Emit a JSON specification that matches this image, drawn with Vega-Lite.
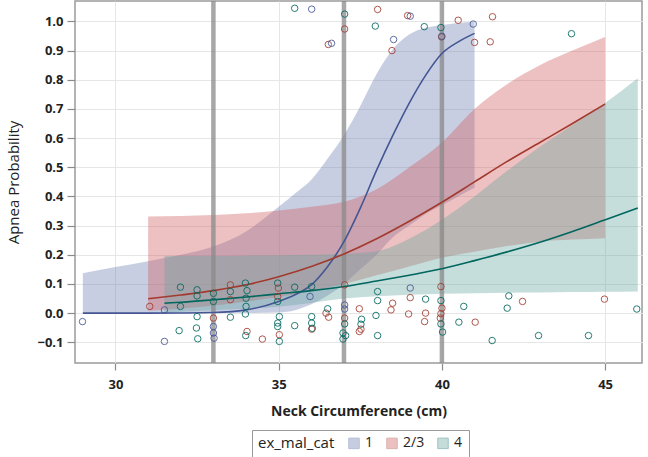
{
  "$schema": "https://vega.github.io/schema/vega-lite/v6.json",
  "width": 567,
  "height": 362,
  "autosize": {"type": "none"},
  "padding": {"left": 75, "top": 1, "right": 6, "bottom": 94},
  "background": "white",
  "datasets": {
    "bands": [
      {"g": "1", "x": 29, "lo": 0, "hi": 0.137},
      {"g": "1", "x": 30, "lo": 0, "hi": 0.158},
      {"g": "1", "x": 31, "lo": 0, "hi": 0.178},
      {"g": "1", "x": 32, "lo": 0, "hi": 0.2},
      {"g": "1", "x": 33, "lo": 0, "hi": 0.228},
      {"g": "1", "x": 34, "lo": 0, "hi": 0.28},
      {"g": "1", "x": 35, "lo": 0.002, "hi": 0.365},
      {"g": "1", "x": 35.5, "lo": 0.01, "hi": 0.41},
      {"g": "1", "x": 36, "lo": 0.03, "hi": 0.457},
      {"g": "1", "x": 36.5, "lo": 0.06, "hi": 0.53},
      {"g": "1", "x": 37, "lo": 0.1, "hi": 0.61},
      {"g": "1", "x": 37.5, "lo": 0.15, "hi": 0.71},
      {"g": "1", "x": 38, "lo": 0.2, "hi": 0.82},
      {"g": "1", "x": 38.5, "lo": 0.26, "hi": 0.905},
      {"g": "1", "x": 39, "lo": 0.3, "hi": 0.955},
      {"g": "1", "x": 39.5, "lo": 0.34, "hi": 0.978},
      {"g": "1", "x": 40, "lo": 0.37, "hi": 0.988},
      {"g": "1", "x": 40.5, "lo": 0.4, "hi": 0.995},
      {"g": "1", "x": 41, "lo": 0.43, "hi": 0.999},
      {"g": "2/3", "x": 31, "lo": 0.008, "hi": 0.331},
      {"g": "2/3", "x": 32, "lo": 0.015, "hi": 0.333},
      {"g": "2/3", "x": 33, "lo": 0.025, "hi": 0.336},
      {"g": "2/3", "x": 34, "lo": 0.04, "hi": 0.342},
      {"g": "2/3", "x": 35, "lo": 0.055, "hi": 0.352},
      {"g": "2/3", "x": 36, "lo": 0.075, "hi": 0.365},
      {"g": "2/3", "x": 37, "lo": 0.1, "hi": 0.382},
      {"g": "2/3", "x": 38, "lo": 0.13, "hi": 0.425},
      {"g": "2/3", "x": 39, "lo": 0.16, "hi": 0.5},
      {"g": "2/3", "x": 40, "lo": 0.19, "hi": 0.585},
      {"g": "2/3", "x": 41, "lo": 0.21, "hi": 0.7},
      {"g": "2/3", "x": 42, "lo": 0.23, "hi": 0.785},
      {"g": "2/3", "x": 43, "lo": 0.245, "hi": 0.85},
      {"g": "2/3", "x": 44, "lo": 0.252, "hi": 0.9},
      {"g": "2/3", "x": 45, "lo": 0.257, "hi": 0.947},
      {"g": "4", "x": 31.5, "lo": 0.003, "hi": 0.196},
      {"g": "4", "x": 32, "lo": 0.005, "hi": 0.196},
      {"g": "4", "x": 33, "lo": 0.01, "hi": 0.196},
      {"g": "4", "x": 34, "lo": 0.015, "hi": 0.197},
      {"g": "4", "x": 35, "lo": 0.022, "hi": 0.198},
      {"g": "4", "x": 36, "lo": 0.035, "hi": 0.2},
      {"g": "4", "x": 37, "lo": 0.05, "hi": 0.203},
      {"g": "4", "x": 38, "lo": 0.058, "hi": 0.212},
      {"g": "4", "x": 39, "lo": 0.063, "hi": 0.255},
      {"g": "4", "x": 40, "lo": 0.066, "hi": 0.32},
      {"g": "4", "x": 41, "lo": 0.068, "hi": 0.4},
      {"g": "4", "x": 42, "lo": 0.07, "hi": 0.488},
      {"g": "4", "x": 43, "lo": 0.071, "hi": 0.57},
      {"g": "4", "x": 44, "lo": 0.072, "hi": 0.645},
      {"g": "4", "x": 45, "lo": 0.073, "hi": 0.72},
      {"g": "4", "x": 46, "lo": 0.074, "hi": 0.805}
    ],
    "lines": [
      {"g": "1", "x": 29, "p": 0},
      {"g": "1", "x": 30, "p": 0},
      {"g": "1", "x": 31, "p": 0},
      {"g": "1", "x": 32, "p": 0.0005},
      {"g": "1", "x": 33, "p": 0.002},
      {"g": "1", "x": 34, "p": 0.011},
      {"g": "1", "x": 35, "p": 0.04},
      {"g": "1", "x": 35.5, "p": 0.063},
      {"g": "1", "x": 36, "p": 0.097},
      {"g": "1", "x": 36.5, "p": 0.16},
      {"g": "1", "x": 37, "p": 0.245},
      {"g": "1", "x": 37.5, "p": 0.36},
      {"g": "1", "x": 38, "p": 0.49},
      {"g": "1", "x": 38.5, "p": 0.61},
      {"g": "1", "x": 39, "p": 0.72},
      {"g": "1", "x": 39.5, "p": 0.815},
      {"g": "1", "x": 40, "p": 0.89},
      {"g": "1", "x": 40.5, "p": 0.93},
      {"g": "1", "x": 41, "p": 0.959},
      {"g": "2/3", "x": 31, "p": 0.049},
      {"g": "2/3", "x": 32, "p": 0.062},
      {"g": "2/3", "x": 33, "p": 0.077},
      {"g": "2/3", "x": 34, "p": 0.097},
      {"g": "2/3", "x": 35, "p": 0.125},
      {"g": "2/3", "x": 36, "p": 0.16},
      {"g": "2/3", "x": 37, "p": 0.203},
      {"g": "2/3", "x": 38, "p": 0.255},
      {"g": "2/3", "x": 39, "p": 0.315},
      {"g": "2/3", "x": 40, "p": 0.38},
      {"g": "2/3", "x": 41, "p": 0.45},
      {"g": "2/3", "x": 42, "p": 0.52},
      {"g": "2/3", "x": 43, "p": 0.585},
      {"g": "2/3", "x": 44, "p": 0.65},
      {"g": "2/3", "x": 45, "p": 0.717},
      {"g": "4", "x": 31.5, "p": 0.034},
      {"g": "4", "x": 32, "p": 0.037},
      {"g": "4", "x": 33, "p": 0.046},
      {"g": "4", "x": 34, "p": 0.055},
      {"g": "4", "x": 35, "p": 0.066},
      {"g": "4", "x": 36, "p": 0.077},
      {"g": "4", "x": 37, "p": 0.091},
      {"g": "4", "x": 38, "p": 0.11},
      {"g": "4", "x": 39, "p": 0.13},
      {"g": "4", "x": 40, "p": 0.152},
      {"g": "4", "x": 41, "p": 0.18},
      {"g": "4", "x": 42, "p": 0.21},
      {"g": "4", "x": 43, "p": 0.243},
      {"g": "4", "x": 44, "p": 0.28},
      {"g": "4", "x": 45, "p": 0.32},
      {"g": "4", "x": 46, "p": 0.36}
    ],
    "refs": [{"x": 33}, {"x": 37}, {"x": 40}],
    "points": [
      {"g": "4", "x": 35.49, "y": 1.045},
      {"g": "1", "x": 36.01, "y": 1.042},
      {"g": "4", "x": 37.02, "y": 1.025},
      {"g": "2/3", "x": 37.02, "y": 0.974},
      {"g": "2/3", "x": 36.52, "y": 0.921},
      {"g": "1", "x": 36.62, "y": 0.925},
      {"g": "2/3", "x": 38.03, "y": 1.041},
      {"g": "4", "x": 37.96, "y": 0.984},
      {"g": "2/3", "x": 38.95, "y": 1.02},
      {"g": "1", "x": 39.03, "y": 1.018},
      {"g": "1", "x": 38.52, "y": 0.938},
      {"g": "2/3", "x": 38.47, "y": 0.9},
      {"g": "4", "x": 39.46, "y": 0.982},
      {"g": "4", "x": 39.97, "y": 0.979},
      {"g": "2/3", "x": 39.99, "y": 0.947},
      {"g": "1", "x": 40.0, "y": 0.949},
      {"g": "2/3", "x": 40.5, "y": 1.004},
      {"g": "1", "x": 40.96, "y": 0.991},
      {"g": "2/3", "x": 41.55, "y": 1.016},
      {"g": "2/3", "x": 41.0, "y": 0.928},
      {"g": "2/3", "x": 41.48, "y": 0.93},
      {"g": "4", "x": 43.97, "y": 0.958},
      {"g": "1", "x": 28.99, "y": -0.029},
      {"g": "2/3", "x": 31.05, "y": 0.023},
      {"g": "1", "x": 31.5, "y": 0.011},
      {"g": "1", "x": 31.5, "y": -0.097},
      {"g": "4", "x": 31.99, "y": 0.089},
      {"g": "4", "x": 31.99, "y": 0.023},
      {"g": "4", "x": 31.95, "y": -0.06},
      {"g": "4", "x": 32.5, "y": 0.08},
      {"g": "4", "x": 32.5, "y": 0.059},
      {"g": "4", "x": 32.5, "y": -0.012},
      {"g": "4", "x": 32.48, "y": -0.051},
      {"g": "4", "x": 32.52, "y": -0.088},
      {"g": "4", "x": 33.0, "y": 0.068},
      {"g": "4", "x": 33.0, "y": 0.04},
      {"g": "2/3", "x": 33.0, "y": -0.017},
      {"g": "1", "x": 33.0, "y": -0.046},
      {"g": "1", "x": 33.0, "y": -0.068},
      {"g": "1", "x": 33.02, "y": -0.086},
      {"g": "2/3", "x": 33.52, "y": 0.097},
      {"g": "4", "x": 33.52, "y": 0.074},
      {"g": "2/3", "x": 33.52, "y": 0.046},
      {"g": "4", "x": 33.52, "y": -0.014},
      {"g": "4", "x": 33.98, "y": 0.103},
      {"g": "4", "x": 34.03, "y": 0.077},
      {"g": "4", "x": 34.0, "y": 0.051},
      {"g": "4", "x": 34.0, "y": 0.023},
      {"g": "4", "x": 33.98, "y": -0.003},
      {"g": "2/3", "x": 34.03, "y": -0.063},
      {"g": "4", "x": 33.99, "y": -0.077},
      {"g": "2/3", "x": 34.5, "y": -0.089},
      {"g": "4", "x": 34.97, "y": 0.103},
      {"g": "2/3", "x": 34.99, "y": 0.086},
      {"g": "2/3", "x": 34.97, "y": 0.057},
      {"g": "4", "x": 34.97, "y": 0.04},
      {"g": "4", "x": 35.02, "y": -0.012},
      {"g": "4", "x": 34.97, "y": -0.034},
      {"g": "4", "x": 34.97, "y": -0.046},
      {"g": "2/3", "x": 35.02, "y": -0.074},
      {"g": "4", "x": 35.02, "y": -0.097},
      {"g": "4", "x": 35.49, "y": 0.089},
      {"g": "4", "x": 35.49, "y": -0.043},
      {"g": "4", "x": 36.01, "y": 0.091},
      {"g": "1", "x": 35.96, "y": 0.057},
      {"g": "4", "x": 36.01, "y": -0.012},
      {"g": "4", "x": 36.01, "y": -0.034},
      {"g": "2/3", "x": 36.01, "y": -0.055},
      {"g": "4", "x": 36.03, "y": -0.052},
      {"g": "2/3", "x": 36.45, "y": 0.0},
      {"g": "4", "x": 36.5, "y": 0.015},
      {"g": "2/3", "x": 36.53, "y": -0.014},
      {"g": "2/3", "x": 37.02, "y": 0.097},
      {"g": "1", "x": 37.02, "y": 0.028},
      {"g": "1", "x": 37.02, "y": 0.014},
      {"g": "2/3", "x": 37.02, "y": -0.017},
      {"g": "4", "x": 37.02, "y": -0.037},
      {"g": "4", "x": 36.97, "y": -0.068},
      {"g": "4", "x": 37.05, "y": -0.077},
      {"g": "4", "x": 36.97, "y": -0.089},
      {"g": "4", "x": 38.03, "y": 0.074},
      {"g": "4", "x": 38.03, "y": 0.043},
      {"g": "4", "x": 37.98, "y": -0.008},
      {"g": "4", "x": 38.03, "y": -0.077},
      {"g": "2/3", "x": 37.47, "y": 0.015},
      {"g": "4", "x": 37.54, "y": -0.021},
      {"g": "4", "x": 37.52, "y": -0.038},
      {"g": "2/3", "x": 37.52, "y": -0.055},
      {"g": "2/3", "x": 37.47, "y": -0.063},
      {"g": "2/3", "x": 38.49, "y": 0.034},
      {"g": "2/3", "x": 38.44, "y": 0.011},
      {"g": "1", "x": 39.03, "y": 0.086},
      {"g": "2/3", "x": 39.03, "y": 0.053},
      {"g": "2/3", "x": 38.98, "y": -0.003},
      {"g": "4", "x": 39.5, "y": 0.048},
      {"g": "2/3", "x": 39.5, "y": 0.0},
      {"g": "2/3", "x": 39.47, "y": -0.029},
      {"g": "2/3", "x": 39.97, "y": 0.091},
      {"g": "4", "x": 39.97, "y": 0.043},
      {"g": "2/3", "x": 40.0, "y": 0.017},
      {"g": "2/3", "x": 39.97, "y": -0.002},
      {"g": "2/3", "x": 39.95, "y": -0.017},
      {"g": "4", "x": 39.97, "y": -0.037},
      {"g": "4", "x": 40.02, "y": -0.065},
      {"g": "4", "x": 40.67, "y": 0.023},
      {"g": "4", "x": 40.52, "y": -0.031},
      {"g": "2/3", "x": 41.02, "y": -0.031},
      {"g": "4", "x": 41.54, "y": -0.094},
      {"g": "4", "x": 42.05, "y": 0.059},
      {"g": "4", "x": 42.0, "y": 0.017},
      {"g": "2/3", "x": 42.47, "y": 0.04},
      {"g": "4", "x": 42.96, "y": -0.077},
      {"g": "4", "x": 44.49, "y": -0.077},
      {"g": "2/3", "x": 44.98, "y": 0.048},
      {"g": "4", "x": 45.97, "y": 0.014}
    ]
  },
  "layer": [
    {
      "data": {"name": "bands"},
      "mark": {"type": "area", "opacity": 0.38, "interpolate": "monotone"},
      "encoding": {
        "x": {"field": "x", "type": "quantitative"},
        "y": {"field": "lo", "type": "quantitative"},
        "y2": {"field": "hi"},
        "fill": {
          "field": "g", "type": "nominal",
          "scale": {"domain": ["1", "2/3", "4"], "range": ["#6F7EB3", "#D05B5B", "#66A5A0"]},
          "legend": {
            "title": "ex_mal_cat",
            "orient": "none",
            "legendX": 177,
            "legendY": 429,
            "direction": "horizontal",
            "titleOrient": "left",
            "titleFontWeight": "normal",
            "titleFontSize": 15,
            "titleColor": "#222",
            "titleFont": "Open Sans",
            "titlePadding": 12,
            "labelFont": "Open Sans",
            "labelFontSize": 14,
            "labelColor": "#222",
            "symbolType": "square",
            "symbolSize": 110,
            "symbolStrokeColor": "#666",
            "symbolStrokeWidth": 1,
            "columnPadding": 10,
            "strokeColor": "#999",
            "padding": 6
          }
        }
      }
    },
    {
      "data": {"name": "refs"},
      "mark": {"type": "rule", "color": "#8a8a8a", "strokeWidth": 4.5, "opacity": 0.75},
      "encoding": {"x": {"field": "x", "type": "quantitative"}}
    },
    {
      "data": {"name": "lines"},
      "mark": {"type": "line", "strokeWidth": 1.6, "interpolate": "monotone"},
      "encoding": {
        "x": {"field": "x", "type": "quantitative"},
        "y": {"field": "p", "type": "quantitative"},
        "stroke": {
          "field": "g", "type": "nominal",
          "scale": {"domain": ["1", "2/3", "4"], "range": ["#445694", "#A23A2E", "#01665E"]},
          "legend": null
        }
      }
    },
    {
      "data": {"name": "points"},
      "mark": {"type": "point", "shape": "circle", "size": 42, "strokeWidth": 1, "filled": false, "opacity": 0.85},
      "encoding": {
        "x": {"field": "x", "type": "quantitative"},
        "y": {"field": "y", "type": "quantitative"},
        "stroke": {"field": "g", "type": "nominal", "legend": null}
      }
    }
  ],
  "resolve": {"scale": {"x": "shared", "y": "shared"}},
  "encoding": {
    "x": {
      "type": "quantitative",
      "scale": {"domain": [28.76, 46.13], "nice": false, "zero": false},
      "axis": {
        "title": "Neck Circumference (cm)",
        "values": [30, 35, 40, 45],
        "format": "d",
        "tickSize": 7,
        "labelPadding": 8,
        "titlePadding": 13,
        "titleFontWeight": "bold",
        "titleFontSize": 14
      }
    },
    "y": {
      "type": "quantitative",
      "scale": {"domain": [-0.171, 1.07], "nice": false, "zero": false},
      "axis": {
        "title": "Apnea Probability",
        "values": [-0.1, 0, 0.1, 0.2, 0.3, 0.4, 0.5, 0.6, 0.7, 0.8, 0.9, 1.0],
        "format": ".1f",
        "tickSize": 8,
        "labelPadding": 4,
        "titlePadding": 15,
        "titleFontWeight": "normal",
        "titleFontSize": 15
      }
    }
  },
  "config": {
    "font": "Open Sans",
    "view": {"stroke": "#9a9a9a", "strokeWidth": 1.5},
    "axis": {
      "domain": false,
      "grid": true,
      "gridColor": "#e6e6e6",
      "gridWidth": 1,
      "tickColor": "#8a8a8a",
      "tickWidth": 1.2,
      "labelFont": "Open Sans",
      "labelFontWeight": "bold",
      "labelFontSize": 13,
      "labelColor": "#222",
      "titleFont": "Open Sans",
      "titleColor": "#222"
    },
    "legend": {"strokeColor": "#999"}
  }
}
